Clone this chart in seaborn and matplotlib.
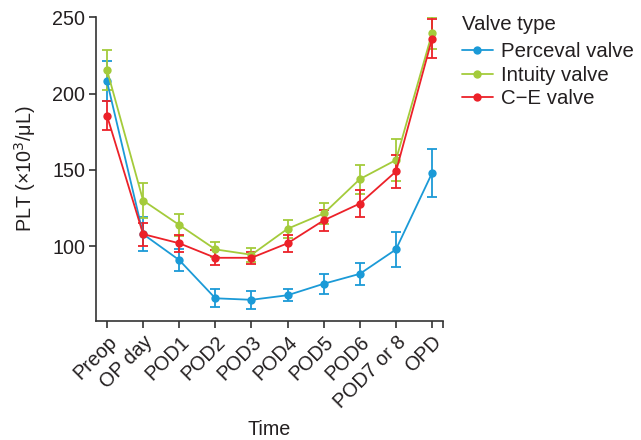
import matplotlib
matplotlib.use("Agg")
import matplotlib.pyplot as plt
import seaborn as sns
import pandas as pd

times = ["Preop", "OP day", "POD1", "POD2", "POD3", "POD4", "POD5", "POD6", "POD7 or 8", "OPD"]
series = ["Perceval valve", "Intuity valve", "C\u2212E valve"]

perceval_mean = [208, 108, 91, 66, 65, 68, 75.5, 82, 98, 148]
perceval_err = [13, 11, 7, 6, 6, 4, 6.5, 7, 11.5, 16]
intuity_mean = [215.5, 130, 114, 98, 94.5, 111.5, 121.5, 144, 156.5, 239.5]
intuity_err = [13, 11.5, 7, 5, 4.5, 6, 7, 9.5, 14, 10.5]
ce_mean = [185.5, 108, 102, 92.5, 92.5, 102, 117, 128, 149, 236]
ce_err = [9.5, 7.5, 5.5, 5, 4, 5.5, 7, 9, 10.5, 12.5]

colors = ["#1b9ad7", "#a4cb3b", "#ec2129"]

rows = []
for name, m, e in zip(series, [perceval_mean, intuity_mean, ce_mean], [perceval_err, intuity_err, ce_err]):
    for i, (t, mv, ev) in enumerate(zip(times, m, e)):
        rows.append({"Time": t, "x": i, "PLT": mv, "err": ev, "Valve type": name})
df = pd.DataFrame(rows)

sns.set_theme(style="ticks")
plt.rcParams["font.family"] = ["Liberation Sans", "DejaVu Sans"]

FS = 14.2
TXT = "#231f20"

fig = plt.figure(figsize=(6.41, 4.40), dpi=100)
ax = fig.add_axes([0.150, 0.270, 0.541, 0.691])

sns.lineplot(data=df, x="x", y="PLT", hue="Valve type", hue_order=series,
             palette=colors, marker="o", markersize=6, markeredgewidth=0,
             linewidth=1.3, ax=ax, zorder=3)
for name, c in zip(series, colors):
    sub = df[df["Valve type"] == name]
    ax.errorbar(sub["x"], sub["PLT"], yerr=sub["err"], fmt="none", ecolor=c,
                elinewidth=1.3, capsize=3.5, capthick=1.3, zorder=2)

ax.set_xlim(-0.3, 9.3)
ax.set_ylim(51, 250)
ax.set_yticks([100, 150, 200, 250])
ax.set_xticks(range(len(times)))
ax.set_xticks([9.3], minor=True)
ax.set_xticklabels(times, rotation=45, ha="right", rotation_mode="anchor")
ax.tick_params(axis="both", which="both", labelsize=FS, length=5, width=1.2, color="#333333", labelcolor=TXT, pad=3)
for s in ["left", "bottom"]:
    ax.spines[s].set_linewidth(1.2)
    ax.spines[s].set_color("#333333")
sns.despine(ax=ax)
ax.set_xlabel("Time", fontsize=FS, color=TXT, labelpad=6)
ax.set_ylabel("PLT (\u00d710$^3$/\u03bcL)", fontsize=FS, color=TXT, labelpad=10)

handles, labels = ax.get_legend_handles_labels()
if ax.get_legend():
    ax.get_legend().remove()
leg = fig.legend(handles, labels, title="Valve type", loc="upper left",
                 bbox_to_anchor=(462 / 641, 1 - 15 / 440), bbox_transform=fig.transFigure,
                 frameon=False, fontsize=FS + 0.5, title_fontsize=FS + 0.5,
                 handlelength=1.5, handletextpad=0.4, labelspacing=0.22,
                 borderpad=0, borderaxespad=0)
leg._legend_box.align = "left"
leg._legend_box.sep = 6
for t in leg.get_texts():
    t.set_color(TXT)
leg.get_title().set_color(TXT)

fig.savefig("out.png", dpi=100)
